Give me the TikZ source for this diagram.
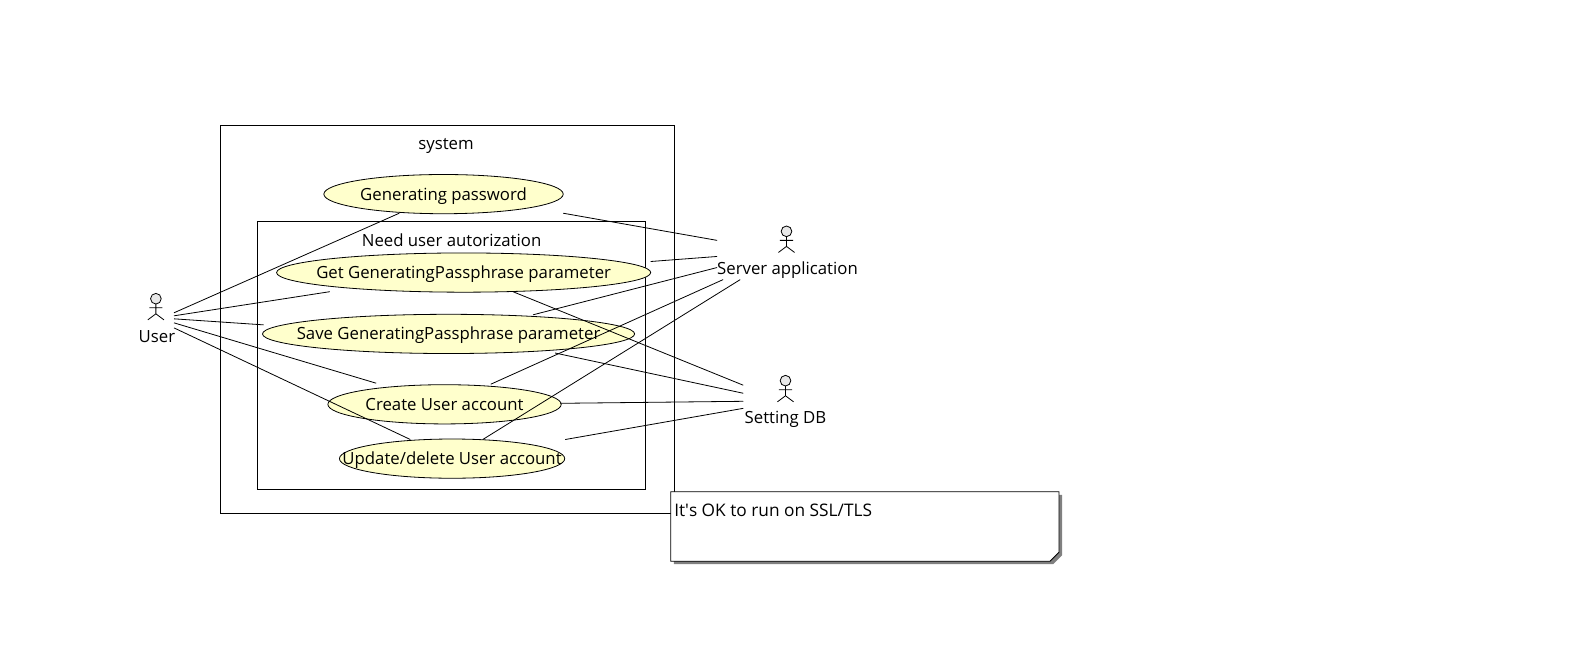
\documentclass[tikz,border=0pt]{standalone}
\usepackage{fontspec}
\setmainfont{Open Sans}
\usetikzlibrary{shapes.geometric}
\definecolor{usecasefill}{HTML}{FFFFCC}
\definecolor{headfill}{HTML}{E8E8E8}
\newcommand{\uctext}[1]{\makebox[0pt]{\raisebox{-4.5pt}[0pt][0pt]{#1}}}
\tikzset{
  usecase/.style={draw, ellipse, fill=usecasefill, inner sep=0pt, font=\fontsize{12.5}{14}\selectfont},
  label text/.style={inner sep=0pt, font=\fontsize{12.5}{14}\selectfont},
  frame/.style={draw, inner sep=0pt},
  link/.style={line width=0.6pt},
  actor/.pic={
    \draw[fill=headfill, line width=0.6pt] (0,0) circle (5.3);
    \draw[line width=0.6pt] (0,5.3) -- (0,15) (-6.5,9) -- (6.5,9) (-8,21) -- (0,15) -- (8,21);
  }
}
\begin{document}
\begin{tikzpicture}[x=0.75pt, y=-0.75pt, line width=0.6pt]
\useasboundingbox (0,0) rectangle (1569,662);

% frames
\node[frame, minimum width=451.6*0.75pt, minimum height=385*0.75pt] (system) at (444.8,317.5) {};
\node[frame, minimum width=385.5*0.75pt, minimum height=267*0.75pt] (inner) at (448.7,353.5) {};
\node[label text] (systemlabel) at (443.5,145) {system};
\node[label text] (innerlabel) at (449,239) {Need user autorization};

% use cases
\node[usecase, minimum width=238*0.75pt, minimum height=39*0.75pt] (genpass) at (441,193) {\uctext{Generating password}};
\node[usecase, minimum width=372*0.75pt, minimum height=39*0.75pt] (getparam) at (461,271) {\uctext{Get GeneratingPassphrase parameter}};
\node[usecase, minimum width=370*0.75pt, minimum height=39*0.75pt] (saveparam) at (446,332) {\uctext{Save GeneratingPassphrase parameter}};
\node[usecase, minimum width=232*0.75pt, minimum height=39*0.75pt] (create) at (442,402) {\uctext{Create User account}};
\node[usecase, minimum width=224*0.75pt, minimum height=39*0.75pt] (update) at (449.5,456) {\uctext{Update/delete User account}};

% actors
\pic at (155,297) {actor};
\pic at (782,230) {actor};
\pic at (781,378.5) {actor};
\node[label text] (user) at (156,335) {User};
\node[label text] (server) at (783,269) {Server application};
\node[label text] (settingdb) at (781,417) {Setting DB};

% free ends of the links
\foreach \name/\x/\y in {
  ua/173/311, ub/173/314, uc/173/317, ud/173/321, ue/173/326,
  pa/397/212, pb/328/290, pc/262/323, pd/374/381, pe/408/437,
  qa/560/212, qb/647/260, qc/530/313, qd/488/382, qe/480/437,
  sa/713/239, sb/713/255, sc/713/266, sd/719/278, se/736/278,
  ra/510/290, rb/552/351, rc/557/401, rd/562/437,
  da/739/383, db/739/391, dc/739/399, dd/739/406}
  \coordinate (\name) at (\x,\y);

% user links
\foreach \from/\to in {ua/pa, ub/pb, uc/pc, ud/pd, ue/pe}
  \draw[link] (\from) -- (\to);
% server links
\foreach \from/\to in {qa/sa, qb/sb, qc/sc, qd/sd, qe/se}
  \draw[link] (\from) -- (\to);
% db links
\foreach \from/\to in {ra/da, rb/db, rc/dc, rd/dd}
  \draw[link] (\from) -- (\to);

% note
\fill[gray] (670,492) -- (1056,492) -- (1056,552) -- (1047,561) -- (670,561) -- cycle;
\draw[fill=white] (667,489) -- (1053,489) -- (1053,549) -- (1044,558) -- (667,558) -- cycle;
\node[label text, anchor=west, font=\fontsize{12.9}{15}\selectfont] (note) at (670,507) {It\textquotesingle s OK to run on SSL/TLS};
\end{tikzpicture}
\end{document}
